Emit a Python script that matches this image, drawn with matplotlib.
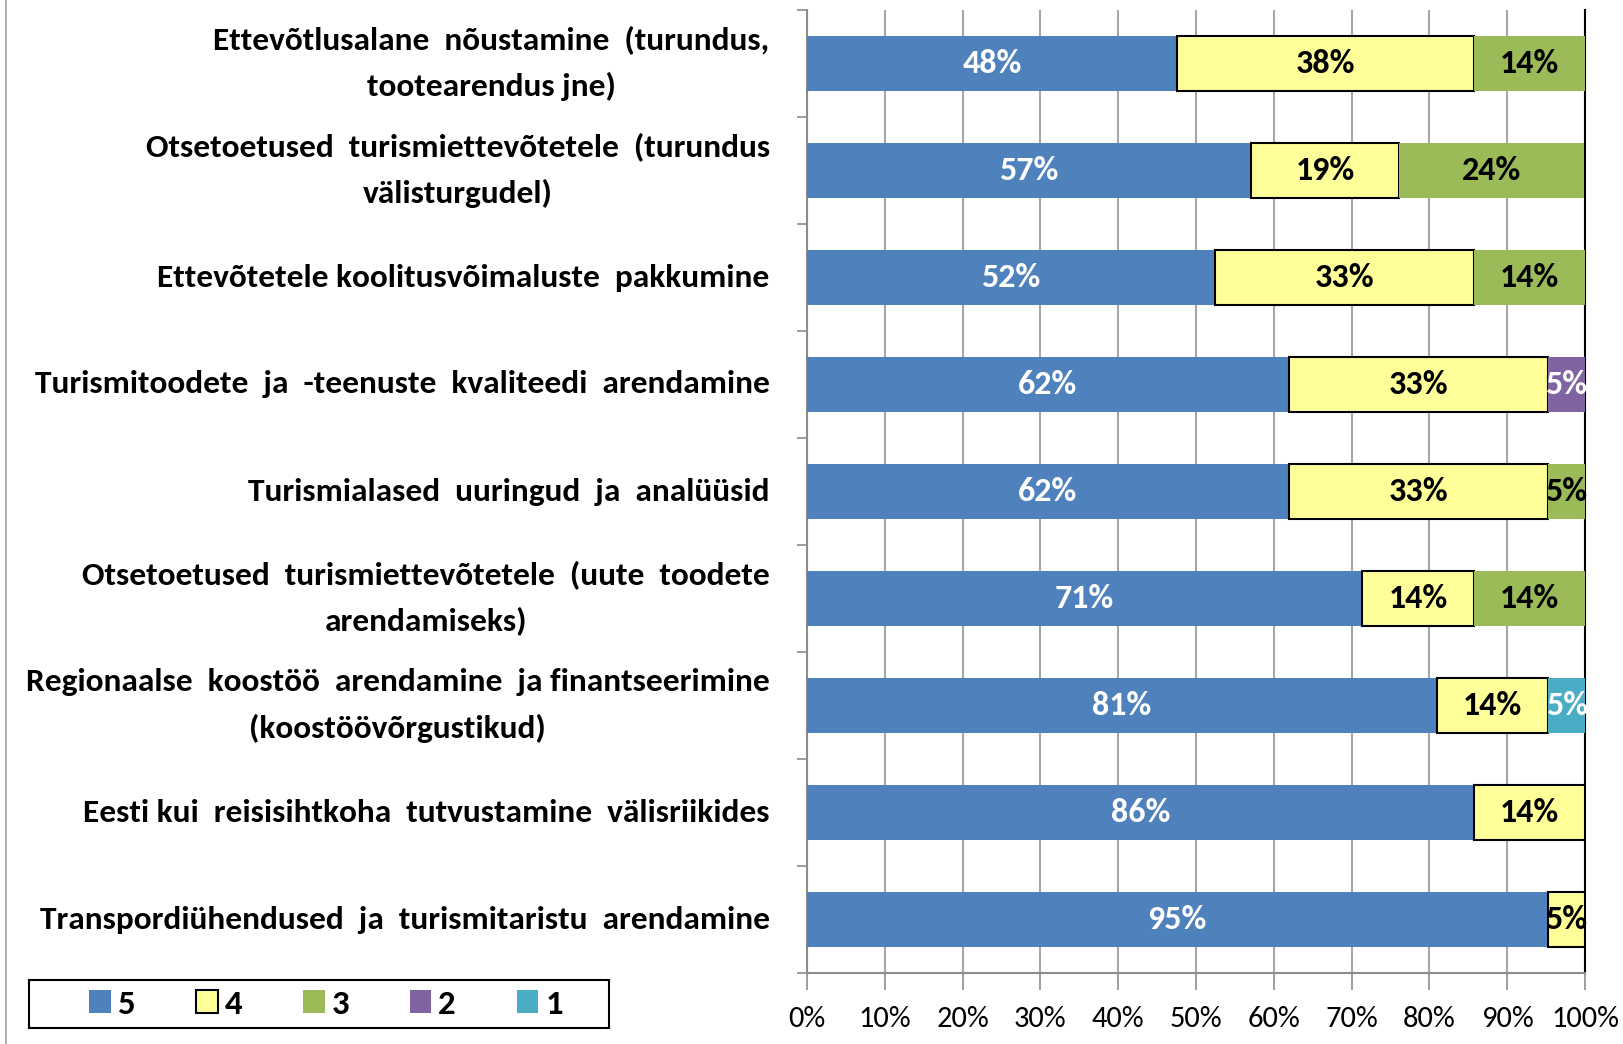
import matplotlib
matplotlib.use("Agg")
import matplotlib.pyplot as plt
from matplotlib.patches import Rectangle
import numpy as np

plt.rcParams['font.family'] = ['Carlito', 'DejaVu Sans']

categories = [
    "Ettevõtlusalane  nõustamine  (turundus,\ntootearendus jne)",
    "Otsetoetused  turismiettevõtetele  (turundus\nvälisturgudel)",
    "Ettevõtetele koolitusvõimaluste  pakkumine",
    "Turismitoodete  ja  -teenuste  kvaliteedi  arendamine",
    "Turismialased  uuringud  ja  analüüsid",
    "Otsetoetused  turismiettevõtetele  (uute  toodete\narendamiseks)",
    "Regionaalse  koostöö  arendamine  ja finantseerimine\n(koostöövõrgustikud)",
    "Eesti kui  reisisihtkoha  tutvustamine  välisriikides",
    "Transpordiühendused  ja  turismitaristu  arendamine",
]
series_names = ["5", "4", "3", "2", "1"]
s5 = [47.6, 57.1, 52.4, 61.9, 61.9, 71.4, 81.0, 85.7, 95.2]
s4 = [38.1, 19.0, 33.3, 33.3, 33.3, 14.3, 14.3, 14.3, 4.8]
s3 = [14.3, 23.8, 14.3, 0.0, 4.8, 14.3, 0.0, 0.0, 0.0]
s2 = [0.0, 0.0, 0.0, 4.8, 0.0, 0.0, 0.0, 0.0, 0.0]
s1 = [0.0, 0.0, 0.0, 0.0, 0.0, 0.0, 4.8, 0.0, 0.0]
xticklabels = ["0%", "10%", "20%", "30%", "40%", "50%", "60%", "70%", "80%", "90%", "100%"]

colors = ["#4F81BD", "#FFFF99", "#9BBB59", "#8064A2", "#4BACC6"]
edges = ["none", "black", "none", "none", "none"]
text_colors = ["white", "black", "black", "white", "white"]

W, H = 1624, 1044
fig = plt.figure(figsize=(W / 100, H / 100), dpi=100)
ax = fig.add_axes([807 / W, 1 - 973 / H, (1585 - 807) / W, (973 - 10) / H])

y = np.arange(len(categories))
left = np.zeros(len(categories))
handles = []
for vals, name, c, ec, tc in zip([s5, s4, s3, s2, s1], series_names, colors, edges, text_colors):
    vals = np.array(vals)
    bars = ax.barh(y, vals, left=left, height=0.51, color=c,
                   edgecolor=ec, linewidth=1.5 if ec != "none" else 0, zorder=3, label=name)
    handles.append(bars)
    for yi, v, l in zip(y, vals, left):
        if v > 0:
            ax.text(l + v / 2, yi, f"{round(v):d}%", ha="center", va="center",
                    color=tc, fontsize=24.5, fontweight="bold", zorder=4)
    left = left + vals

ax.set_xlim(0, 100)
ax.set_ylim(len(categories) - 0.5, -0.5)
ax.set_xticks(np.arange(0, 101, 10))
ax.set_xticklabels(xticklabels, fontsize=22)
ax.xaxis.grid(True, color="#A6A6A6", linewidth=1.5, zorder=0)
ax.set_axisbelow(True)

ax.set_yticks(np.arange(-0.5, len(categories), 1.0))
ax.set_yticklabels([])
ax.tick_params(axis="y", direction="out", length=7, width=1.2, color="#8C8C8C")
ax.tick_params(axis="x", direction="out", length=12, width=1.2, color="#8C8C8C", pad=12)

for yi, cat in zip(y, categories):
    ax.text(-4.8, yi, cat, ha="right", va="center", multialignment="center",
            fontsize=24, fontweight="bold", linespacing=1.72,
            transform=ax.transData, clip_on=False)

ax.spines["top"].set_visible(False)
ax.spines["left"].set_color("#8C8C8C")
ax.spines["left"].set_linewidth(1.5)
ax.spines["bottom"].set_color("#8C8C8C")
ax.spines["bottom"].set_linewidth(1.5)
ax.spines["right"].set_color("black")
ax.spines["right"].set_linewidth(1.5)

# chart-area left border
fig.add_artist(plt.Line2D([5.5 / W, 5.5 / W], [0, 1], color="#A0A0A0", linewidth=1.2))

# legend box
bx0, bx1, by0, by1 = 29, 609, 980, 1028
fig.add_artist(Rectangle((bx0 / W, 1 - by1 / H), (bx1 - bx0) / W, (by1 - by0) / H,
                         transform=fig.transFigure, facecolor="white", edgecolor="black",
                         linewidth=1.5, zorder=5))
leg = fig.legend(handles=handles, labels=series_names, loc="center",
                 bbox_to_anchor=(326 / W, 1 - 1004 / H),
                 ncol=5, frameon=False, prop={"size": 25, "weight": "bold"},
                 handlelength=0.62, handleheight=0.62, handletextpad=0.2, columnspacing=1.75,
                 borderpad=0, borderaxespad=0)
leg.set_zorder(6)

fig.savefig("out.png", dpi=100)
